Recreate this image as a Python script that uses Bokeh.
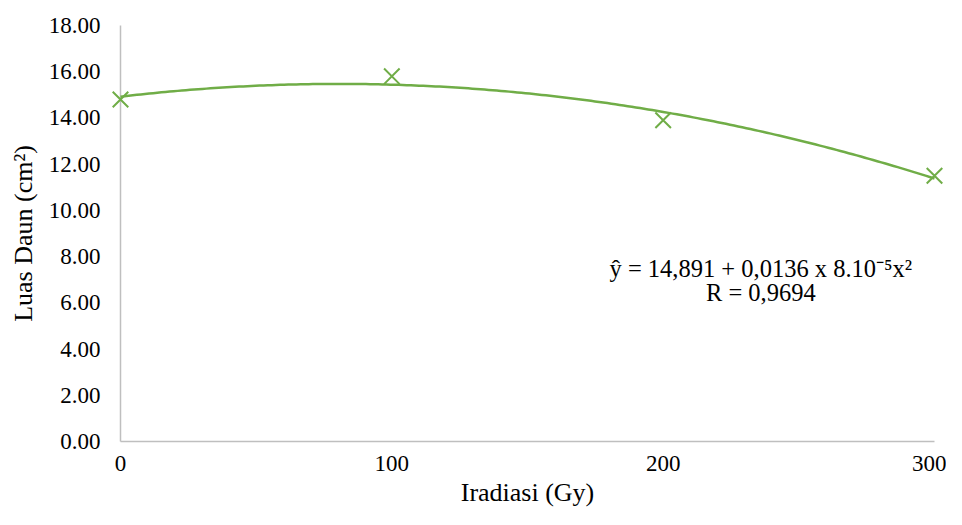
import numpy as np
from bokeh.plotting import figure
from bokeh.models import ColumnDataSource, Range1d, FixedTicker, NumeralTickFormatter, Label
from bokeh.embed import file_html
from bokeh.resources import INLINE

# data
irradiation = [0, 100, 200, 300]
leaf_area = [14.8, 15.8, 13.9, 11.5]
x_ticks = [0, 100, 200, 300]
y_ticks = [0, 2, 4, 6, 8, 10, 12, 14, 16, 18]
equation_line1 = "ŷ = 14,891 + 0,0136 x 8.10⁻⁵x²"
equation_line2 = "R = 0,9694"

GREEN = "#70AD47"
AXIS = "#BFBFBF"
FONT = "'Liberation Serif', 'Times New Roman', serif"

# polynomial (order 2) trendline fitted to the data, as the spreadsheet does
coef = np.polyfit(irradiation, leaf_area, 2)
xs = np.linspace(min(irradiation), max(irradiation), 200)
trend = ColumnDataSource(dict(x=xs, y=np.polyval(coef, xs)))
pts = ColumnDataSource(dict(x=irradiation, y=leaf_area))

p = figure(width=946, height=509, output_backend="svg", toolbar_location=None,
           x_range=Range1d(0, 300), y_range=Range1d(0, 18),
           min_border_left=120, min_border_right=12, min_border_top=25, min_border_bottom=10)
p.outline_line_color = None
p.grid.visible = False

p.line("x", "y", source=trend, line_color=GREEN, line_width=2.5, level="overlay")
p.scatter("x", "y", source=pts, marker="x", size=22, line_color=GREEN, line_width=2, level="overlay")

for ax in (p.xaxis[0], p.yaxis[0]):
    ax.axis_line_color = AXIS
    ax.axis_line_width = 1.5
    ax.major_tick_line_color = None
    ax.minor_tick_line_color = None
    ax.major_tick_out = 0
    ax.major_tick_in = 0
    ax.major_label_text_font = FONT
    ax.major_label_text_font_size = "23px"
    ax.major_label_text_color = "#000000"
    ax.axis_label_text_font = FONT
    ax.axis_label_text_font_size = "26px"
    ax.axis_label_text_font_style = "normal"
    ax.axis_label_text_color = "#000000"

p.xaxis.ticker = FixedTicker(ticks=x_ticks)
p.yaxis.ticker = FixedTicker(ticks=y_ticks)
p.yaxis.formatter = NumeralTickFormatter(format="0.00")
p.xaxis.axis_label = "Iradiasi (Gy)"
p.yaxis.axis_label = "Luas Daun (cm²)"
p.xaxis.major_label_standoff = 14
p.xaxis.axis_label_standoff = 4
p.yaxis.major_label_standoff = 20
p.yaxis.axis_label_standoff = 8

for txt, yy in ((equation_line1, 7.5), (equation_line2, 6.45)):
    p.add_layout(Label(x=236, y=yy, text=txt, text_align="center", text_baseline="middle",
                       text_font=FONT, text_font_size="24.5px", text_color="#000000"))

open("out.html", "w").write(file_html(p, INLINE))
